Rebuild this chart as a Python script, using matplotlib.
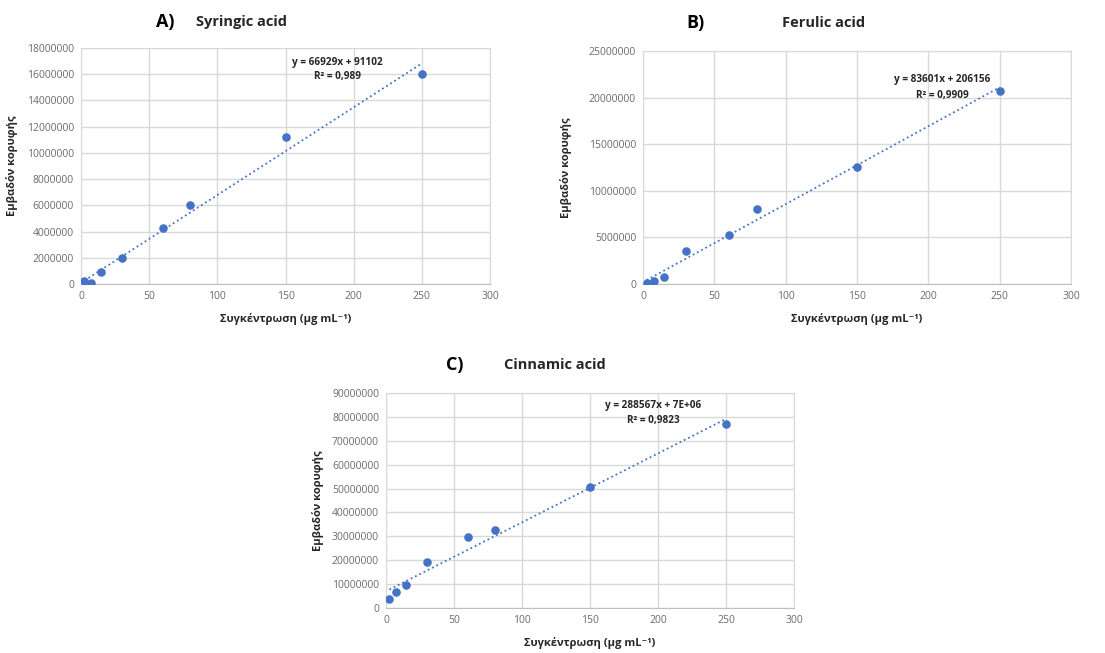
import matplotlib
matplotlib.use("Agg")
import matplotlib.pyplot as plt
from matplotlib.ticker import MultipleLocator, FuncFormatter

# concentration levels (ug/mL)
conc = [2.5, 7.5, 15, 30, 60, 80, 150, 250]

# peak areas
syringic = [230000, 50000, 900000, 1950000, 4300000, 6050000, 11200000, 16000000]
ferulic = [100000, 280000, 700000, 3500000, 5300000, 8100000, 12600000, 20700000]
cinnamic = [3700000, 6500000, 9800000, 19400000, 29700000, 32600000, 50800000, 77000000]

# Excel trendline coefficients as shown on the chart
slopes = [66929, 83601, 288567]
intercepts = [91102, 206156, 7e6]
eq_labels = ["y = 66929x + 91102", "y = 83601x + 206156", "y = 288567x + 7E+06"]
r2_labels = ["R² = 0,989", "R² = 0,9909", "R² = 0,9823"]

letters = ["A)", "B)", "C)"]
titles = ["Syringic acid", "Ferulic acid", "Cinnamic acid"]
ymax = [18000000, 25000000, 90000000]
ystep = [2000000, 5000000, 10000000]

FONT = ["Open Sans", "DejaVu Sans"]
plt.rcParams["font.family"] = FONT
BLUE = "#4472C4"
GRID = "#d9d9d9"

W, H = 1105, 653
fig = plt.figure(figsize=(W / 100, H / 100), dpi=100)

# axes boxes in pixels: left, top, right, bottom
boxes = [(81, 48, 490, 284), (643, 51, 1071, 284), (386, 393, 794, 608)]
# pixel positions of "A)" and title centre
head = [((165, 22), (242, 22)), ((695, 23), (824, 23)), ((455, 365), (555, 365))]
# equation box position (axes fraction)
eq_pos = [(0.628, 0.94, 0.88), (0.70, 0.876, 0.811), (0.654, 0.944, 0.874)]
ylab_pad = [6, 12, 6]

series = [syringic, ferulic, cinnamic]

for i in range(3):
    l, t, r, b = boxes[i]
    ax = fig.add_axes([l / W, 1 - b / H, (r - l) / W, (b - t) / H])
    ys = series[i]
    ax.scatter(conc, ys, s=38, color=BLUE, zorder=3, linewidths=0)
    xl = [conc[0], conc[-1]]
    ax.plot(xl, [slopes[i] * x + intercepts[i] for x in xl], ":", color=BLUE, lw=1.3, zorder=2)

    ax.set_xlim(0, 300)
    ax.set_ylim(0, ymax[i])
    ax.xaxis.set_major_locator(MultipleLocator(50))
    ax.yaxis.set_major_locator(MultipleLocator(ystep[i]))
    ax.yaxis.set_major_formatter(FuncFormatter(lambda v, p: f"{int(round(v))}"))
    ax.grid(True, color=GRID, lw=1)
    ax.set_axisbelow(True)
    for s in ax.spines.values():
        s.set_color(GRID)
    ax.spines["bottom"].set_color("#bfbfbf")
    ax.tick_params(length=0, labelsize=7.5, labelcolor="#6b6b6b", pad=5)

    ax.set_xlabel("Συγκέντρωση (μg mL⁻¹)", fontsize=8, fontweight="bold", color="#262626", labelpad=8)
    ax.set_ylabel("Εμβαδόν κορυφής", fontsize=8, fontweight="bold", color="#262626", labelpad=ylab_pad[i])

    ex, ey1, ey2 = eq_pos[i]
    ax.text(ex, ey1, eq_labels[i], transform=ax.transAxes, ha="center", va="center",
            fontsize=7.2, fontweight="bold", color="#262626")
    ax.text(ex, ey2, r2_labels[i], transform=ax.transAxes, ha="center", va="center",
            fontsize=7.2, fontweight="bold", color="#262626")

    (lx, ly), (tx, ty) = head[i]
    fig.text(lx / W, 1 - ly / H, letters[i], ha="center", va="center", fontsize=13, fontweight="bold")
    fig.text(tx / W, 1 - ty / H, titles[i], ha="center", va="center", fontsize=10.5, fontweight="bold",
             color="#262626")

fig.savefig("out.png", dpi=100, facecolor="white")
